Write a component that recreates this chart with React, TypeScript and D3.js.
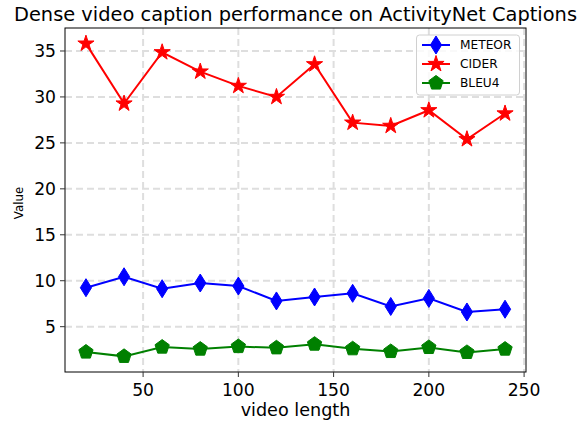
import React from "react";
import * as d3 from "d3";

const videoLength = [20, 40, 60, 80, 100, 120, 140, 160, 180, 200, 220, 240];
const meteor = [9.24, 10.43, 9.13, 9.75, 9.42, 7.8, 8.23, 8.63, 7.2, 8.08, 6.6, 6.9];
const cider = [35.8, 29.28, 34.86, 32.76, 31.2, 30.0, 33.55, 27.2, 26.85, 28.55, 25.4, 28.2];
const bleu4 = [2.24, 1.77, 2.78, 2.56, 2.84, 2.7, 3.1, 2.6, 2.3, 2.74, 2.2, 2.56];
const xTicks = [50, 100, 150, 200, 250];
const yTicks = [5, 10, 15, 20, 25, 30, 35];
const seriesNames = ["METEOR", "CIDER", "BLEU4"];

const W = 584;
const H = 421;
const M = { left: 65, right: 526, top: 28, bottom: 372 };
const FONT = "DejaVu Sans, sans-serif";

function starPath(r: number) {
  const pts: [number, number][] = [];
  for (let i = 0; i < 10; i++) {
    const rr = i % 2 === 0 ? r : r * 0.381;
    const a = -Math.PI / 2 + (i * Math.PI) / 5;
    pts.push([rr * Math.cos(a), rr * Math.sin(a)]);
  }
  return "M" + pts.map((p) => p.join(",")).join("L") + "Z";
}
function pentagonPath(r: number) {
  const pts: [number, number][] = [];
  for (let i = 0; i < 5; i++) {
    const a = -Math.PI / 2 + (i * 2 * Math.PI) / 5;
    pts.push([r * Math.cos(a), r * Math.sin(a)]);
  }
  return "M" + pts.map((p) => p.join(",")).join("L") + "Z";
}
function diamondPath(h: number, w: number) {
  return `M0,${-h}L${w},0L0,${h}L${-w},0Z`;
}

export default function App() {
  const allVals = [...meteor, ...cider, ...bleu4];
  const yMin = d3.min(allVals)!;
  const yMax = d3.max(allVals)!;
  const yPad = (yMax - yMin) * 0.05;
  const xPad = (d3.max(videoLength)! - d3.min(videoLength)!) * 0.05;
  const x = d3
    .scaleLinear()
    .domain([d3.min(videoLength)! - xPad, d3.max(videoLength)! + xPad])
    .range([M.left, M.right]);
  const y = d3
    .scaleLinear()
    .domain([yMin - yPad, yMax + yPad])
    .range([M.bottom, M.top]);

  const series = [
    { name: seriesNames[0], data: meteor, color: "#0000ff", marker: diamondPath(9, 5.6) },
    { name: seriesNames[1], data: cider, color: "#ff0000", marker: starPath(8.5) },
    { name: seriesNames[2], data: bleu4, color: "#008000", marker: pentagonPath(7.5) },
  ];

  const line = d3
    .line<number>()
    .x((_, i) => x(videoLength[i]))
    .y((d) => y(d));

  return (
    <svg width={W} height={H} style={{ position: "absolute", left: 0, top: 0 }} fontFamily={FONT}>
      <rect x={0} y={0} width={W} height={H} fill="#fff" />
      {/* grid */}
      <g stroke="#dedede" strokeWidth={2} strokeDasharray="7,4">
        {yTicks.map((t) => (
          <line key={"gy" + t} x1={M.left} x2={M.right} y1={y(t)} y2={y(t)} />
        ))}
        {xTicks.map((t) => (
          <line key={"gx" + t} x1={x(t)} x2={x(t)} y1={M.top} y2={M.bottom} />
        ))}
      </g>
      {/* series */}
      {series.map((s) => (
        <g key={s.name}>
          <path d={line(s.data) || ""} fill="none" stroke={s.color} strokeWidth={2} />
          {s.data.map((v, i) => (
            <path
              key={i}
              d={s.marker}
              transform={`translate(${x(videoLength[i])},${y(v)})`}
              fill={s.color}
              stroke={s.color}
              strokeWidth={1}
            />
          ))}
        </g>
      ))}
      {/* spines */}
      <rect
        x={M.left}
        y={M.top}
        width={M.right - M.left}
        height={M.bottom - M.top}
        fill="none"
        stroke="#000"
        strokeWidth={1}
      />
      {/* ticks */}
      {yTicks.map((t) => (
        <g key={"yt" + t}>
          <line x1={M.left - 5} x2={M.left} y1={y(t)} y2={y(t)} stroke="#333" strokeWidth={1} />
          <text x={M.left - 9} y={y(t)} dy="0.36em" textAnchor="end" fontSize={17.2} fill="#000">
            {t}
          </text>
        </g>
      ))}
      {xTicks.map((t) => (
        <g key={"xt" + t}>
          <line x1={x(t)} x2={x(t)} y1={M.bottom} y2={M.bottom + 5} stroke="#333" strokeWidth={1} />
          <text x={x(t)} y={M.bottom + 24} textAnchor="middle" fontSize={17.2} fill="#000">
            {t}
          </text>
        </g>
      ))}
      {/* labels */}
      <text x={(M.left + M.right) / 2} y={416} textAnchor="middle" fontSize={17.6} fill="#000">
        video length
      </text>
      <text
        transform={`translate(22.5,203) rotate(-90)`}
        textAnchor="middle"
        fontSize={11.8}
        fill="#000"
      >
        Value
      </text>
      <text x={(M.left + M.right) / 2} y={21} textAnchor="middle" fontSize={19.4} fill="#000">
        Dense video caption performance on ActivityNet Captions
      </text>
      {/* legend */}
      <g>
        <rect x={416.5} y={35} width={103} height={60} rx={3} fill="#fff" fillOpacity={0.8} stroke="#d0d0d0" strokeWidth={1} />
        {series.map((s, i) => {
          const ly = 45 + i * 19;
          return (
            <g key={"lg" + s.name}>
              <line x1={422} x2={450} y1={ly} y2={ly} stroke={s.color} strokeWidth={2} />
              <path d={s.marker} transform={`translate(436,${ly})`} fill={s.color} stroke={s.color} strokeWidth={1} />
              <text x={460} y={ly} dy="0.36em" fontSize={12.2} fill="#000">
                {s.name}
              </text>
            </g>
          );
        })}
      </g>
    </svg>
  );
}
